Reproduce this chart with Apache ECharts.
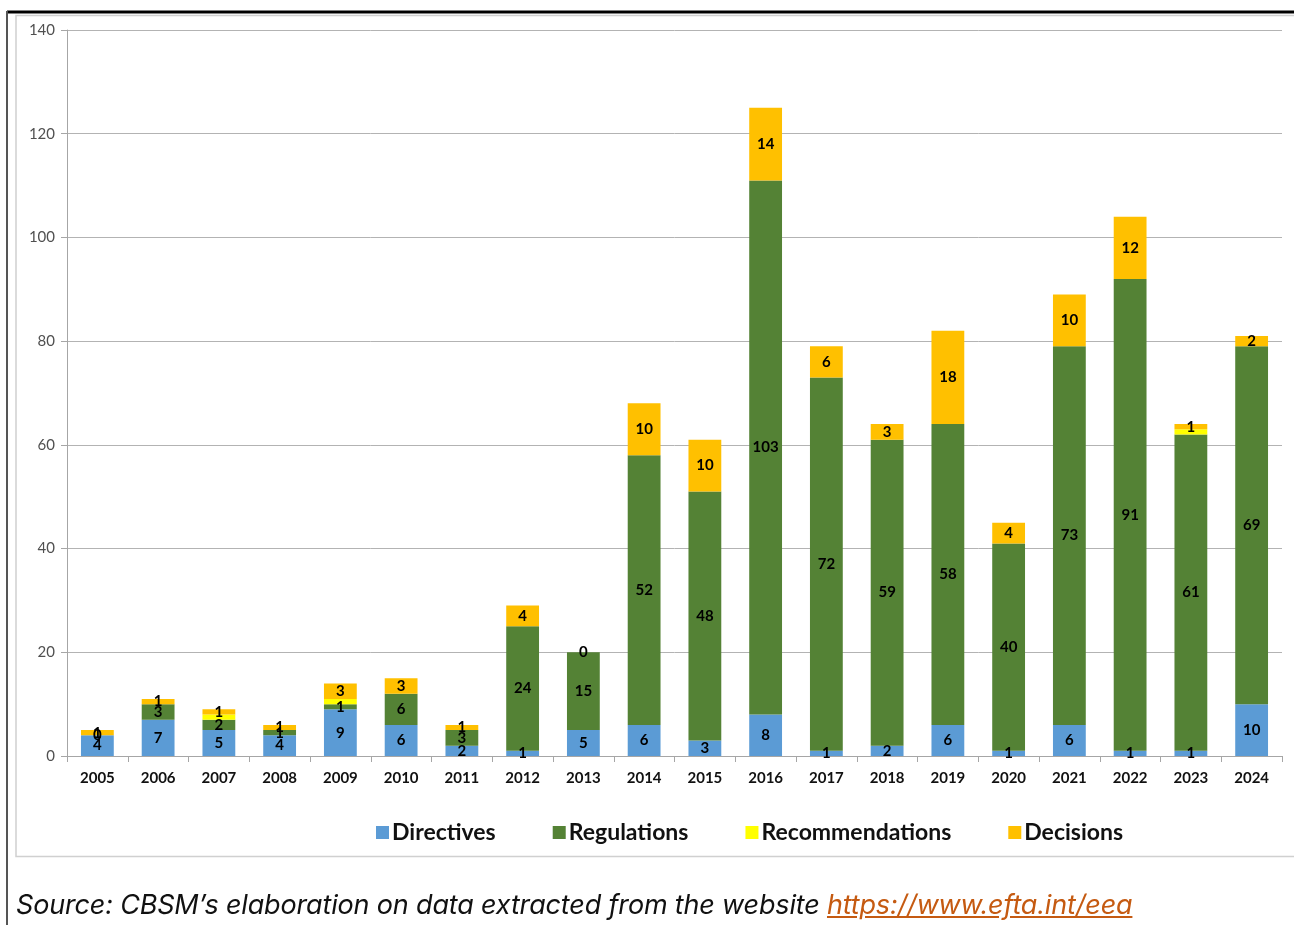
<!DOCTYPE html>
<html>
<head>
<meta charset="utf-8">
<script src="https://cdn.jsdelivr.net/npm/echarts@6/dist/echarts.min.js"></script>
<style>
  html, body { margin: 0; padding: 0; background: #fff; }
  #wrap { position: relative; width: 1294px; height: 925px; overflow: hidden; }
  #chart { position: absolute; left: 0; top: 0; width: 1294px; height: 925px; }
  #source {
    position: absolute; left: 16px; top: 888px;
    font-family: Inter, "Open Sans", sans-serif; font-style: italic;
    font-size: 27px; line-height: 34px; color: #111; white-space: nowrap; letter-spacing: -0.17px;
  }
  #source a { color: #c55a11; text-decoration: underline; }
</style>
</head>
<body>
<div id="wrap">
  <div id="chart"></div>
  <div id="source">Source: CBSM’s elaboration on data extracted from the website <a href="https://www.efta.int/eea">https://www.efta.int/eea</a></div>
</div>
<script>
// EEA legal acts per year, by type
const years = ['2005','2006','2007','2008','2009','2010','2011','2012','2013','2014',
               '2015','2016','2017','2018','2019','2020','2021','2022','2023','2024'];
const directives      = [4, 7, 5, 4, 9, 6, 2, 1, 5, 6, 3, 8, 1, 2, 6, 1, 6, 1, 1, 10];
const regulations     = [0, 3, 2, 1, 1, 6, 3, 24, 15, 52, 48, 103, 72, 59, 58, 40, 73, 91, 61, 69];
const recommendations = [0, 0, 1, 0, 1, 0, 0, 0, 0, 0, 0, 0, 0, 0, 0, 0, 0, 0, 1, 0];
const decisions       = [1, 1, 1, 1, 3, 3, 1, 4, 0, 10, 10, 14, 6, 3, 18, 4, 10, 12, 1, 2];
const yTicks = [0, 20, 40, 60, 80, 100, 120, 140];

const chart = echarts.init(document.getElementById('chart'));
const font = 'Lato, "Liberation Sans", sans-serif';

const labelStyle = {
  show: true, position: 'inside', color: '#000', fontWeight: 'bold',
  fontSize: 15, fontFamily: font
};

function barSeries(name, data, color, showLabel) {
  return {
    name: name, type: 'bar', stack: 'acts', data: data,
    barCategoryGap: '46%',
    itemStyle: { color: color },
    label: showLabel ? labelStyle : { show: false },
    emphasis: { disabled: true }
  };
}

chart.setOption({
  animation: false,
  graphic: [
    // outer frame lines
    { type: 'line', shape: { x1: 7, y1: 12, x2: 1294, y2: 12 }, style: { stroke: '#000', lineWidth: 3 } },
    { type: 'line', shape: { x1: 7, y1: 11, x2: 7, y2: 925 }, style: { stroke: '#555', lineWidth: 2 } },
    // chart box
    { type: 'rect', shape: { x: 16, y: 15.5, width: 1300, height: 841 },
      style: { fill: 'none', stroke: '#d0d0d0', lineWidth: 1.5 } }
  ],
  grid: { left: 67, right: 12, top: 30, bottom: 169, containLabel: false },
  legend: {
    left: 371, top: 816, itemWidth: 13, itemHeight: 13, itemGap: 57,
    icon: 'rect',
    textStyle: { fontFamily: font, fontWeight: 'bold', fontSize: 23, color: '#111', padding: [0, 0, 0, -2] },
    data: ['Directives', 'Regulations', 'Recommendations', 'Decisions']
  },
  xAxis: {
    type: 'category', data: years,
    axisLine: { lineStyle: { color: '#a6a6a6', width: 1 } },
    axisTick: { show: true, length: 6, lineStyle: { color: '#a6a6a6' } },
    axisLabel: { color: '#111', fontWeight: 'bold', fontSize: 15, fontFamily: font, margin: 15 }
  },
  yAxis: {
    type: 'value', min: yTicks[0], max: yTicks[yTicks.length - 1], interval: 20,
    axisLine: { show: true, lineStyle: { color: '#a6a6a6' } },
    axisTick: { show: true, length: 6, lineStyle: { color: '#a6a6a6' } },
    axisLabel: { color: '#505050', fontSize: 15, fontFamily: font, margin: 12 },
    splitLine: { lineStyle: { color: '#b3b3b3', width: 1 } }
  },
  series: [
    barSeries('Directives', directives, '#5b9bd5', true),
    barSeries('Regulations', regulations, '#548235', true),
    barSeries('Recommendations', recommendations, '#ffff00', false),
    barSeries('Decisions', decisions, '#ffc000', true)
  ]
});
</script>
</body>
</html>
